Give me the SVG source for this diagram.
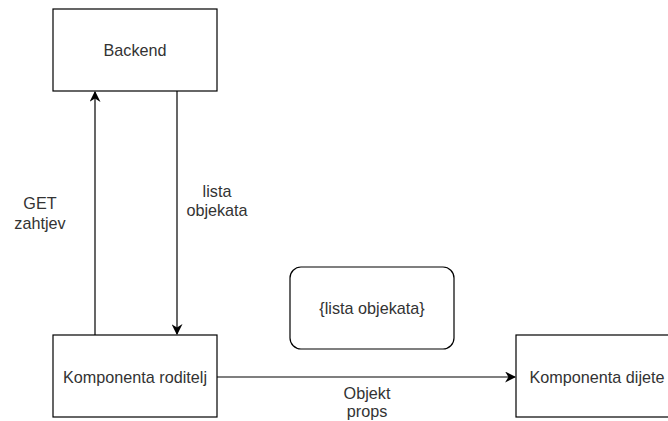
<svg xmlns="http://www.w3.org/2000/svg" width="668" height="421" viewBox="0 0 668 421">
<style>
.box{fill:#fff;stroke:#000;stroke-width:1.2}
.lbl{font-family:"Liberation Sans",Arial,sans-serif;font-size:16.2px;fill:#333;text-anchor:middle}
.edge{fill:none;stroke:#000;stroke-width:1.2}
</style>
<defs>
<marker id="arr" viewBox="0 0 10 10" refX="9" refY="5" markerWidth="11" markerHeight="11" markerUnits="userSpaceOnUse" orient="auto">
<path d="M0,0 L10,5 L0,10 L3,5 Z" fill="#000"/>
</marker>
</defs>
<rect width="668" height="421" fill="#fff"/>
<g id="connectors">
<path class="edge" d="M95,335 V92" marker-end="url(#arr)"/>
<path class="edge" d="M177,91 V334" marker-end="url(#arr)"/>
<path class="edge" d="M217,377 H515" marker-end="url(#arr)"/>
<text class="lbl" x="40" y="209">GET</text>
<text class="lbl" x="40" y="229">zahtjev</text>
<text class="lbl" x="217" y="197">lista</text>
<text class="lbl" x="217" y="216">objekata</text>
<text class="lbl" x="367" y="399">Objekt</text>
<text class="lbl" x="367" y="417">props</text>
</g>
<g id="backend">
<rect class="box" x="53" y="9" width="164" height="82"/>
<text class="lbl" x="135" y="56">Backend</text>
</g>
<g id="roditelj">
<rect class="box" x="53" y="335" width="164" height="82"/>
<text class="lbl" x="135" y="383">Komponenta roditelj</text>
</g>
<g id="dijete">
<rect class="box" x="516" y="335" width="164" height="82"/>
<text class="lbl" x="597" y="383">Komponenta dijete</text>
</g>
<g id="lista">
<rect class="box" x="290" y="267" width="164" height="82" rx="11"/>
<text class="lbl" x="372" y="314">{lista objekata}</text>
</g>
</svg>
